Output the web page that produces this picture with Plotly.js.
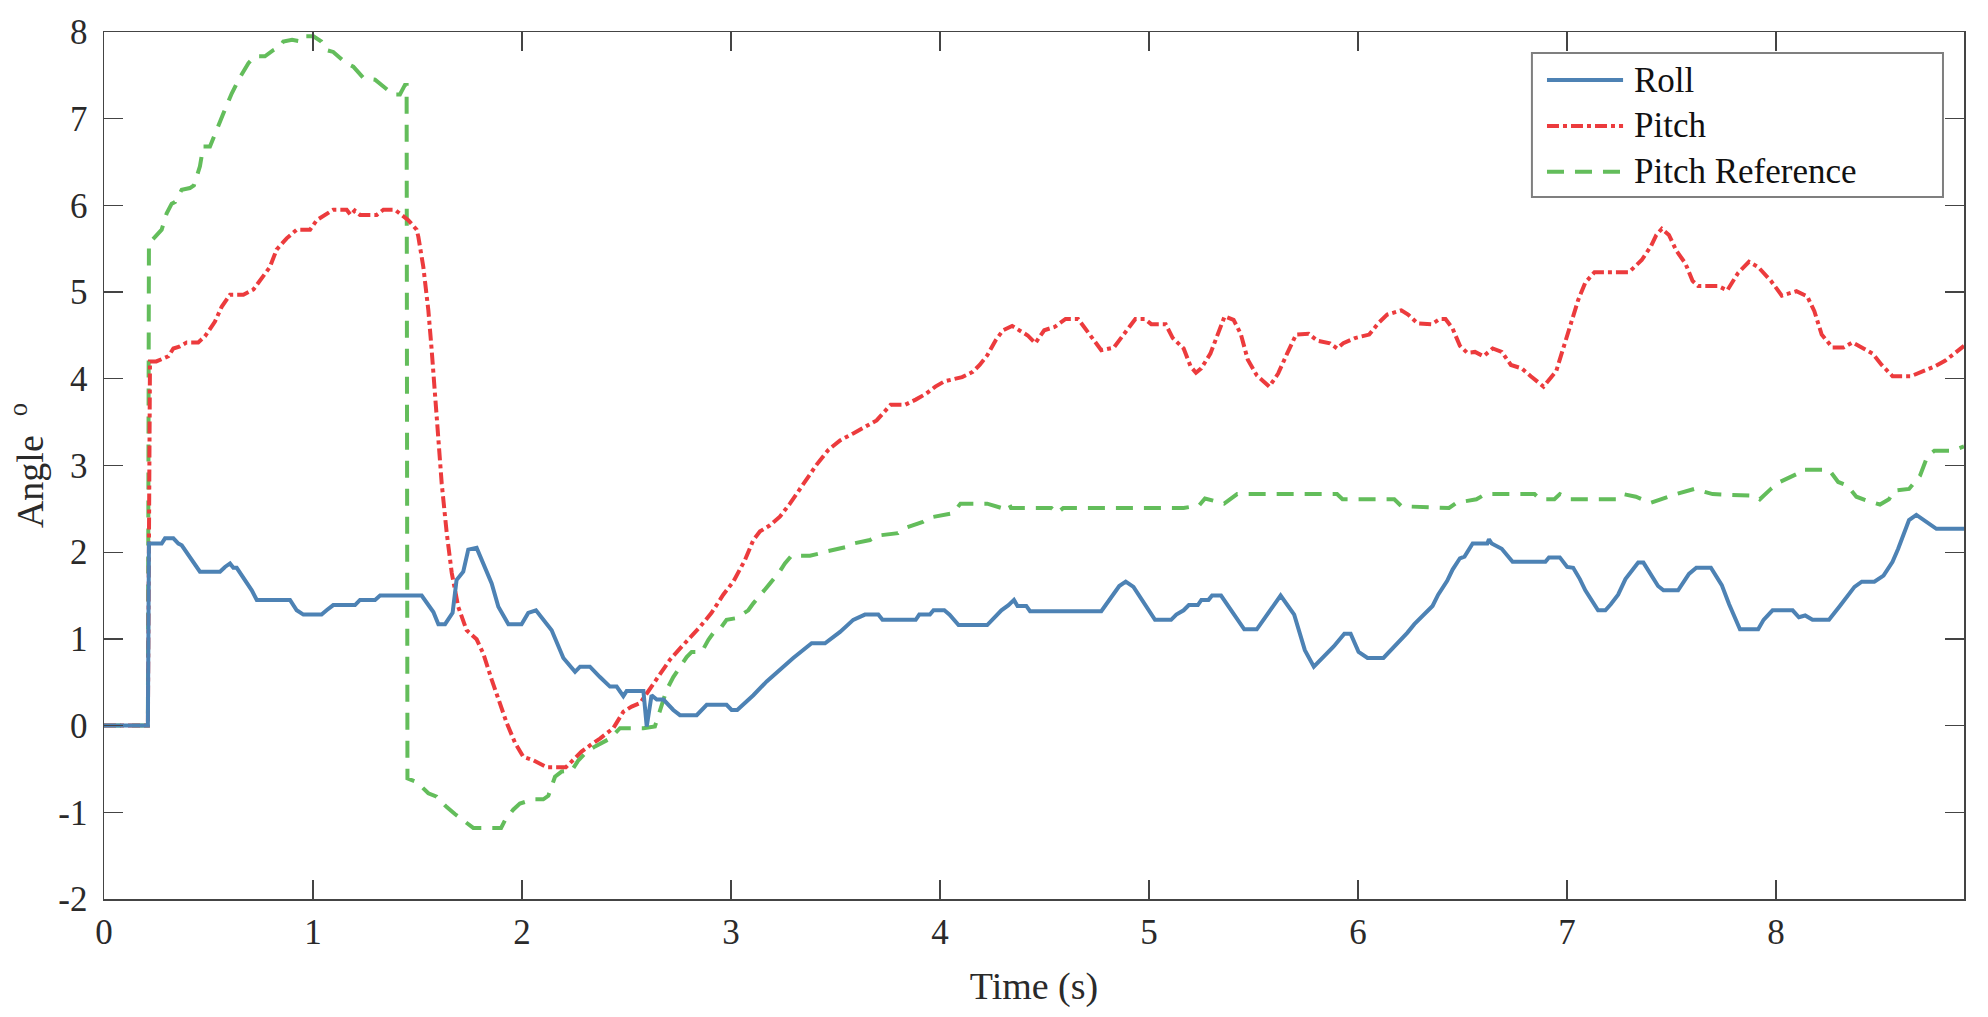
<!DOCTYPE html>
<html>
<head>
<meta charset="utf-8">
<script src="https://cdn.plot.ly/plotly-3.0.1.min.js"></script>
<style>
html,body{margin:0;padding:0;background:#fff;}
#chart{width:1988px;height:1017px;}
</style>
</head>
<body>
<div id="chart"></div>
<script>
// ---- Data ----
const seriesNames = ["Roll", "Pitch", "Pitch Reference"];
const xTickVals = [0, 1, 2, 3, 4, 5, 6, 7, 8];
const yTickVals = [-2, -1, 0, 1, 2, 3, 4, 5, 6, 7, 8];

const rollTime = [
  0, 0.21, 0.215, 0.276, 0.292, 0.332, 0.356, 0.372, 0.459, 0.555,
  0.579, 0.603, 0.619, 0.635, 0.707, 0.731, 0.890, 0.922, 0.954, 1.041,
  1.065, 1.097, 1.201, 1.225, 1.297, 1.321, 1.520, 1.576, 1.600, 1.632,
  1.668, 1.687, 1.719, 1.743, 1.783, 1.815, 1.855, 1.887, 1.935, 1.998,
  2.03, 2.067, 2.142, 2.198, 2.254, 2.278, 2.325, 2.373, 2.421, 2.453,
  2.485, 2.501, 2.581, 2.597, 2.62, 2.645, 2.677, 2.724, 2.756, 2.836,
  2.884, 2.979, 3.003, 3.03, 3.107, 3.171, 3.250, 3.298, 3.386, 3.45,
  3.522, 3.585, 3.641, 3.705, 3.725, 3.884, 3.901, 3.952, 3.969, 4.021,
  4.046, 4.089, 4.226, 4.260, 4.294, 4.328, 4.354, 4.371, 4.413, 4.431,
  4.772, 4.858, 4.889, 4.926, 5.029, 5.106, 5.131, 5.166, 5.191, 5.234,
  5.251, 5.285, 5.302, 5.345, 5.456, 5.516, 5.630, 5.695, 5.721, 5.746,
  5.789, 5.832, 5.883, 5.935, 5.965, 6.003, 6.046, 6.122, 6.174, 6.236,
  6.27, 6.305, 6.357, 6.384, 6.427, 6.453, 6.488, 6.51, 6.549, 6.619,
  6.627, 6.64, 6.688, 6.740, 6.897, 6.914, 6.966, 7.001, 7.03, 7.062,
  7.088, 7.149, 7.184, 7.210, 7.245, 7.280, 7.341, 7.366, 7.410, 7.436,
  7.462, 7.532, 7.584, 7.619, 7.689, 7.741, 7.776, 7.828, 7.915, 7.941,
  7.984, 8.080, 8.11, 8.14, 8.175, 8.254, 8.306, 8.376, 8.411, 8.471,
  8.515, 8.558, 8.585, 8.611, 8.637, 8.672, 8.724, 8.768, 8.9
];
const rollAngle = [
  0, 0, 2.10, 2.10, 2.16, 2.16, 2.10, 2.08, 1.775, 1.775,
  1.83, 1.87, 1.82, 1.82, 1.56, 1.45, 1.45, 1.33, 1.28, 1.28,
  1.33, 1.39, 1.39, 1.45, 1.45, 1.50, 1.50, 1.31, 1.17, 1.17,
  1.30, 1.68, 1.775, 2.03, 2.05, 1.87, 1.64, 1.37, 1.17, 1.17,
  1.30, 1.33, 1.10, 0.78, 0.62, 0.68, 0.68, 0.56, 0.45, 0.45,
  0.34, 0.40, 0.40, -0.01, 0.35, 0.30, 0.30, 0.18, 0.12, 0.12,
  0.24, 0.24, 0.18, 0.18, 0.35, 0.51, 0.68, 0.78, 0.95, 0.95,
  1.08, 1.22, 1.28, 1.28, 1.22, 1.22, 1.28, 1.28, 1.33, 1.33,
  1.28, 1.16, 1.16, 1.24, 1.33, 1.39, 1.45, 1.38, 1.38, 1.32,
  1.32, 1.61, 1.66, 1.60, 1.22, 1.22, 1.28, 1.33, 1.39, 1.39,
  1.45, 1.45, 1.50, 1.50, 1.11, 1.11, 1.50, 1.28, 1.06, 0.87,
  0.68, 0.78, 0.91, 1.06, 1.06, 0.85, 0.78, 0.78, 0.91, 1.07,
  1.17, 1.25, 1.38, 1.51, 1.67, 1.80, 1.93, 1.95, 2.10, 2.10,
  2.15, 2.10, 2.04, 1.89, 1.89, 1.94, 1.94, 1.83, 1.82, 1.69,
  1.56, 1.33, 1.33, 1.40, 1.51, 1.69, 1.88, 1.88, 1.71, 1.61,
  1.56, 1.56, 1.75, 1.82, 1.82, 1.62, 1.40, 1.11, 1.11, 1.22,
  1.33, 1.33, 1.25, 1.27, 1.22, 1.22, 1.38, 1.60, 1.66, 1.66,
  1.73, 1.89, 2.04, 2.22, 2.37, 2.43, 2.35, 2.27, 2.27
];

const pitchTime = [
  0, 0.21, 0.22, 0.25, 0.308, 0.332, 0.36, 0.396, 0.451, 0.483,
  0.531, 0.563, 0.603, 0.667, 0.715, 0.746, 0.794, 0.826, 0.874, 0.922,
  0.986, 1.018, 1.066, 1.097, 1.161, 1.18, 1.20, 1.225, 1.305, 1.337,
  1.392, 1.432, 1.456, 1.496, 1.504, 1.528, 1.552, 1.568, 1.584, 1.600,
  1.616, 1.640, 1.664, 1.695, 1.735, 1.783, 1.815, 1.855, 1.895, 1.927,
  1.967, 2.006, 2.054, 2.118, 2.21, 2.245, 2.285, 2.33, 2.373, 2.437,
  2.485, 2.525, 2.565, 2.597, 2.644, 2.708, 2.764, 2.804, 2.852, 2.907,
  2.963, 3.011, 3.067, 3.107, 3.139, 3.187, 3.234, 3.282, 3.346, 3.410,
  3.466, 3.522, 3.585, 3.649, 3.697, 3.764, 3.833, 3.884, 3.935, 3.978,
  4.021, 4.106, 4.157, 4.19, 4.226, 4.268, 4.302, 4.345, 4.388, 4.42,
  4.456, 4.499, 4.55, 4.601, 4.661, 4.712, 4.772, 4.832, 4.892, 4.935,
  4.98, 5.011, 5.080, 5.114, 5.166, 5.200, 5.225, 5.25, 5.294, 5.328,
  5.362, 5.405, 5.439, 5.473, 5.516, 5.576, 5.618, 5.661, 5.704, 5.764,
  5.806, 5.866, 5.900, 5.93, 5.986, 6.054, 6.097, 6.140, 6.208, 6.24,
  6.285, 6.353, 6.392, 6.419, 6.453, 6.488, 6.523, 6.56, 6.601, 6.645,
  6.688, 6.732, 6.784, 6.827, 6.888, 6.949, 6.975, 7.010, 7.054, 7.088,
  7.132, 7.297, 7.358, 7.402, 7.428, 7.454, 7.488, 7.523, 7.567, 7.601,
  7.628, 7.723, 7.767, 7.819, 7.871, 7.915, 7.976, 8.028, 8.098, 8.150,
  8.184, 8.219, 8.271, 8.323, 8.367, 8.419, 8.463, 8.506, 8.558, 8.646,
  8.706, 8.758, 8.811, 8.863, 8.9
];
const pitchAngle = [
  0, 0, 4.20, 4.20, 4.26, 4.35, 4.37, 4.42, 4.42, 4.49,
  4.66, 4.83, 4.97, 4.97, 5.03, 5.14, 5.29, 5.49, 5.62, 5.72,
  5.72, 5.83, 5.90, 5.95, 5.95, 5.89, 5.94, 5.89, 5.89, 5.95,
  5.95, 5.87, 5.83, 5.72, 5.64, 5.29, 4.79, 4.33, 3.83, 3.29,
  2.79, 2.22, 1.76, 1.37, 1.10, 0.995, 0.83, 0.53, 0.26, 0.03,
  -0.20, -0.36, -0.40, -0.48, -0.48, -0.40, -0.30, -0.22, -0.15, -0.03,
  0.16, 0.22, 0.26, 0.37, 0.53, 0.76, 0.91, 1.01, 1.14, 1.30,
  1.51, 1.66, 1.91, 2.14, 2.24, 2.31, 2.41, 2.56, 2.79, 3.01,
  3.18, 3.29, 3.37, 3.45, 3.52, 3.70, 3.70, 3.76, 3.83, 3.91,
  3.97, 4.02, 4.08, 4.16, 4.27, 4.45, 4.56, 4.61, 4.54, 4.50,
  4.41, 4.56, 4.60, 4.69, 4.69, 4.52, 4.33, 4.36, 4.56, 4.69,
  4.69, 4.63, 4.63, 4.47, 4.35, 4.14, 4.07, 4.12, 4.29, 4.52,
  4.72, 4.68, 4.52, 4.22, 4.04, 3.91, 4.06, 4.29, 4.51, 4.52,
  4.44, 4.41, 4.35, 4.41, 4.47, 4.51, 4.64, 4.74, 4.79, 4.74,
  4.64, 4.63, 4.69, 4.69, 4.58, 4.38, 4.30, 4.31, 4.26, 4.35,
  4.31, 4.16, 4.12, 4.03, 3.91, 4.09, 4.29, 4.58, 4.91, 5.11,
  5.23, 5.23, 5.37, 5.53, 5.66, 5.73, 5.66, 5.48, 5.33, 5.13,
  5.07, 5.07, 5.02, 5.22, 5.35, 5.29, 5.13, 4.96, 5.01, 4.95,
  4.78, 4.51, 4.36, 4.36, 4.42, 4.35, 4.29, 4.16, 4.03, 4.03,
  4.09, 4.14, 4.21, 4.31, 4.38
];

const refTime = [
  0, 0.21, 0.215, 0.236, 0.276, 0.300, 0.324, 0.34, 0.372, 0.411,
  0.43, 0.459, 0.475, 0.507, 0.531, 0.571, 0.611, 0.651, 0.691, 0.722,
  0.770, 0.810, 0.842, 0.858, 0.90, 0.946, 0.962, 1.002, 1.04, 1.066,
  1.097, 1.153, 1.193, 1.241, 1.297, 1.344, 1.384, 1.416, 1.440, 1.448,
  1.452, 1.496, 1.552, 1.592, 1.640, 1.679, 1.735, 1.767, 1.900, 1.919,
  1.958, 1.99, 2.054, 2.102, 2.126, 2.158, 2.19, 2.238, 2.270, 2.310,
  2.35, 2.421, 2.469, 2.581, 2.636, 2.660, 2.692, 2.724, 2.756, 2.788,
  2.812, 2.860, 2.892, 2.916, 2.955, 2.979, 3.027, 3.083, 3.107, 3.163,
  3.187, 3.234, 3.258, 3.290, 3.378, 3.434, 3.46, 3.553, 3.585, 3.665,
  3.697, 3.799, 3.833, 3.918, 3.952, 4.063, 4.098, 4.226, 4.294, 4.33,
  4.34, 4.533, 4.56, 4.59, 5.166, 5.24, 5.268, 5.36, 5.39, 5.422,
  5.900, 5.926, 6.174, 6.208, 6.436, 6.471, 6.567, 6.610, 6.845, 6.871,
  6.94, 6.966, 7.010, 7.245, 7.27, 7.33, 7.402, 7.45, 7.523, 7.61,
  7.697, 7.90, 7.923, 7.976, 8.019, 8.098, 8.117, 8.254, 8.298, 8.341,
  8.385, 8.428, 8.498, 8.541, 8.567, 8.637, 8.689, 8.724, 8.758, 8.845,
  8.9
];
const refAngle = [
  0, 0, 5.56, 5.62, 5.72, 5.91, 6.02, 6.04, 6.18, 6.20,
  6.23, 6.45, 6.68, 6.68, 6.83, 7.06, 7.29, 7.48, 7.64, 7.72,
  7.72, 7.79, 7.83, 7.89, 7.91, 7.89, 7.95, 7.95, 7.89, 7.79,
  7.77, 7.65, 7.60, 7.47, 7.45, 7.35, 7.28, 7.28, 7.39, 7.39,
  -0.61, -0.65, -0.78, -0.82, -0.94, -1.02, -1.13, -1.18, -1.18, -1.09,
  -0.97, -0.90, -0.85, -0.85, -0.81, -0.59, -0.53, -0.52, -0.40, -0.30,
  -0.24, -0.15, -0.03, -0.03, -0.01, 0.18, 0.41, 0.56, 0.68, 0.79,
  0.85, 0.85, 0.99, 1.07, 1.14, 1.22, 1.24, 1.33, 1.41, 1.56,
  1.64, 1.78, 1.87, 1.96, 1.96, 1.99, 2.01, 2.06, 2.10, 2.14,
  2.19, 2.22, 2.28, 2.35, 2.40, 2.45, 2.56, 2.56, 2.51, 2.56,
  2.51, 2.51, 2.45, 2.51, 2.51, 2.54, 2.62, 2.56, 2.62, 2.67,
  2.67, 2.61, 2.61, 2.53, 2.51, 2.57, 2.61, 2.67, 2.67, 2.61,
  2.61, 2.67, 2.61, 2.61, 2.67, 2.64, 2.57, 2.61, 2.67, 2.73,
  2.67, 2.65, 2.61, 2.73, 2.81, 2.90, 2.95, 2.95, 2.81, 2.77,
  2.64, 2.60, 2.55, 2.61, 2.71, 2.73, 2.88, 3.10, 3.17, 3.17,
  3.22
];

// ---- Styles ----
const FONT = "'Liberation Serif', 'Times New Roman', serif";
const colors = ["#4d82b4", "#ec3b3d", "#63bd5b"];
const dashes = ["solid", "12px,4px,4px,4px", "17px,11px"];
const LW = 4;
const AXC = "#444444";

const traces = [
  {x: rollTime, y: rollAngle},
  {x: pitchTime, y: pitchAngle},
  {x: refTime, y: refAngle}
].map((d, i) => ({
  type: "scatter", mode: "lines", name: seriesNames[i],
  x: d.x, y: d.y, showlegend: false,
  line: {color: colors[i], width: LW, dash: dashes[i]},
  hoverinfo: "skip"
}));
const ordered = [traces[2], traces[1], traces[0]];

// ---- Custom legend (box, sample lines, labels) in paper coordinates ----
const legendBox = {x0: 0.7677, x1: 0.9887, y0: 0.8097, y1: 0.9758};
const legendRows = [0.9446, 0.8916, 0.8389];
const legLineX = [0.7758, 0.8167];
const legTextX = 0.8215;

const shapes = [{
  type: "rect", xref: "paper", yref: "paper",
  x0: legendBox.x0, x1: legendBox.x1, y0: legendBox.y0, y1: legendBox.y1,
  line: {color: "#7f7f7f", width: 2}, fillcolor: "#ffffff", layer: "above"
}];
const annotations = [];
seriesNames.forEach((nm, i) => {
  shapes.push({
    type: "line", xref: "paper", yref: "paper",
    x0: legLineX[0], x1: legLineX[1], y0: legendRows[i], y1: legendRows[i],
    line: {color: colors[i], width: LW, dash: dashes[i]}, layer: "above"
  });
  annotations.push({
    xref: "paper", yref: "paper", x: legTextX, y: legendRows[i],
    xanchor: "left", yanchor: "middle", showarrow: false,
    text: nm, font: {family: FONT, size: 35, color: "#111111"}
  });
});

const axisCommon = {
  showline: true, linecolor: AXC, linewidth: 1.5, mirror: "ticks",
  ticks: "inside", ticklen: 19, tickwidth: 1.3, tickcolor: AXC,
  showgrid: false, zeroline: false,
  tickfont: {family: FONT, size: 35, color: "#2a2a2a"}
};

const layout = {
  width: 1988, height: 1017,
  paper_bgcolor: "#ffffff", plot_bgcolor: "#ffffff",
  margin: {l: 104, r: 24, t: 32, b: 118},
  showlegend: false,
  xaxis: Object.assign({}, axisCommon, {
    range: [0, 8.9], tickvals: xTickVals, ticktext: xTickVals.map(String),
    ticklabelstandoff: 1,
    title: {text: "Time (s)", font: {family: FONT, size: 38, color: "#2a2a2a"}, standoff: 22}
  }),
  yaxis: Object.assign({}, axisCommon, {
    range: [-2, 8], tickvals: yTickVals, ticktext: yTickVals.map(String),
    ticklabelstandoff: 8,
    title: {text: "Angle  <sup>o</sup>", font: {family: FONT, size: 38, color: "#2a2a2a"}, standoff: 3}
  }),
  shapes: shapes,
  annotations: annotations
};

Plotly.newPlot("chart", ordered, layout, {staticPlot: true, displayModeBar: false});
</script>
</body>
</html>
